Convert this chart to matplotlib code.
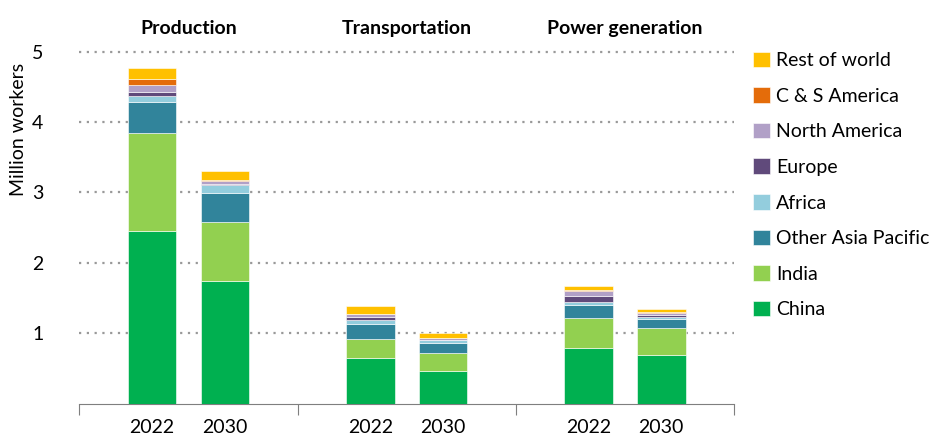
import matplotlib
matplotlib.use("Agg")
import matplotlib.pyplot as plt
import numpy as np

plt.rcParams['font.family'] = ['Lato', 'DejaVu Sans']

groups = ["Production", "Transportation", "Power generation"]
years = ["2022", "2030"]
regions = ["China", "India", "Other Asia Pacific", "Africa", "Europe",
           "North America", "C & S America", "Rest of world"]
colors = ["#00B050", "#92D050", "#31849B", "#93CDDD", "#604A7B",
          "#B1A0C7", "#E46C0A", "#FFC000"]

# values per bar (Production 2022, 2030, Transportation 2022, 2030, Power 2022, 2030)
china = [2.46, 1.74, 0.65, 0.47, 0.79, 0.69]
india = [1.38, 0.84, 0.27, 0.25, 0.43, 0.39]
other_ap = [0.45, 0.41, 0.21, 0.14, 0.18, 0.13]
africa = [0.08, 0.11, 0.06, 0.04, 0.04, 0.02]
europe = [0.05, 0.02, 0.04, 0.01, 0.09, 0.03]
north_am = [0.10, 0.04, 0.04, 0.02, 0.07, 0.03]
cs_am = [0.09, 0.02, 0.01, 0.01, 0.01, 0.01]
rest = [0.15, 0.13, 0.11, 0.06, 0.06, 0.04]
series = [china, india, other_ap, africa, europe, north_am, cs_am, rest]

fig = plt.figure(figsize=(9.35, 4.4), dpi=100)
ax = fig.add_axes([0.085, 0.082, 0.700, 0.865])

x = []
for g in range(len(groups)):
    x += [g * 3 + 1, g * 3 + 2]
x = np.array(x, dtype=float)

bottom = np.zeros(len(x))
handles = []
for vals, col, name in zip(series, colors, regions):
    h = ax.bar(x, vals, width=0.667, bottom=bottom, color=col,
               edgecolor='white', linewidth=0.4, label=name, zorder=3)
    handles.append(h)
    bottom += np.array(vals)

ax.set_xlim(0, 9)
ax.set_ylim(0, 5.4)
ax.set_yticks([1, 2, 3, 4, 5])
ax.set_yticklabels(["1", "2", "3", "4", "5"], fontsize=14)
ax.tick_params(axis='y', length=0, pad=26)
ax.grid(axis='y', linestyle=(0, (1, 2.5)), color='#999999', linewidth=1.6, zorder=0)
for s in ['top', 'right', 'left']:
    ax.spines[s].set_visible(False)
ax.spines['bottom'].set_color('#7f7f7f')

ax.set_xticks([0, 3, 6, 9])
ax.set_xticklabels([])
ax.tick_params(axis='x', length=8, color='#7f7f7f', direction='out')
for xi, lab in zip(x, years * len(groups)):
    ax.text(xi, -0.22, lab, ha='center', va='top', fontsize=14,
            transform=ax.transData)
for g, name in enumerate(groups):
    ax.text(g * 3 + 1.5, 5.33, name, ha='center', va='center',
            fontsize=14, fontweight='bold')

ax.set_ylabel("Million workers", fontsize=14)
ax.yaxis.set_label_coords(-0.08, 0.72)

leg = fig.legend(handles[::-1], regions[::-1], loc='upper left',
                 bbox_to_anchor=(0.797, 0.9), frameon=False, fontsize=14,
                 handlelength=0.85, handleheight=0.85, handletextpad=0.35,
                 labelspacing=0.93, borderaxespad=0)

fig.savefig("out.png", dpi=100)
